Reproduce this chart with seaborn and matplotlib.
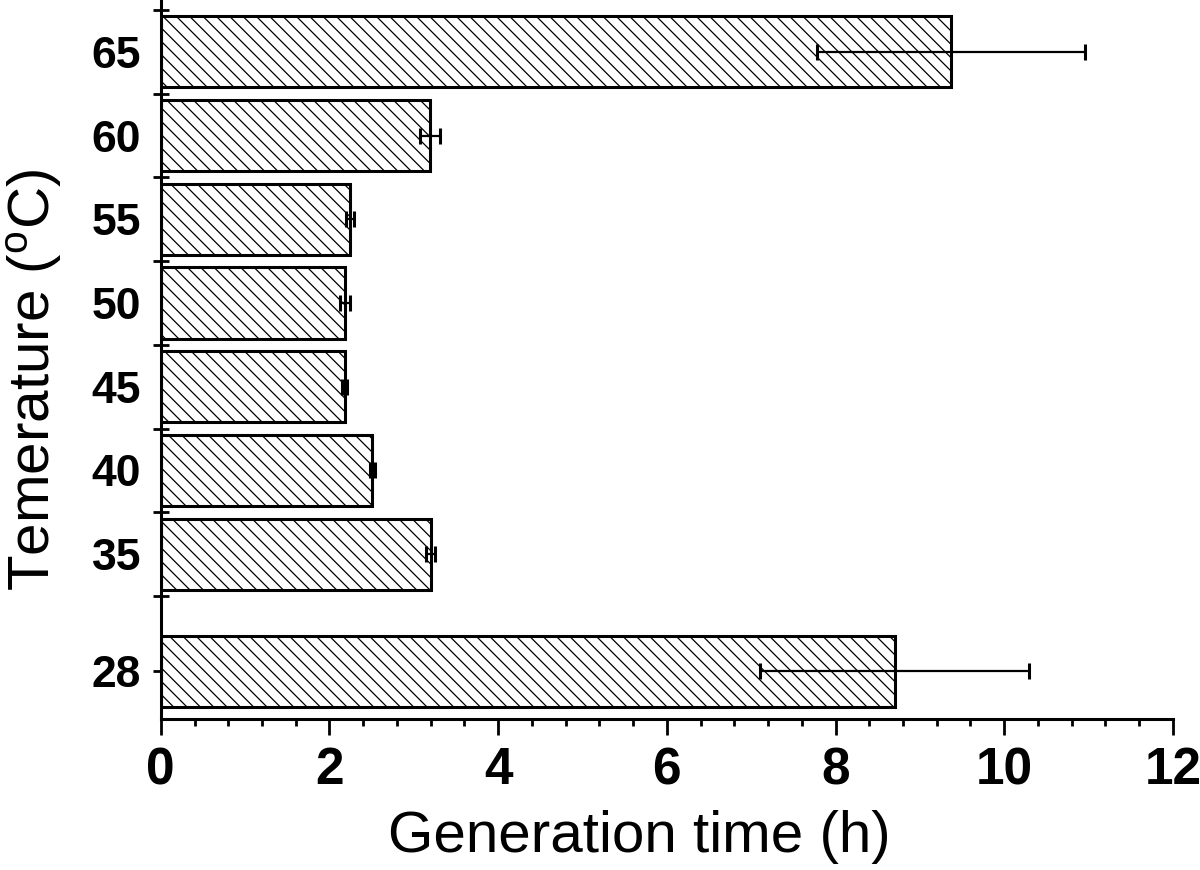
import matplotlib
matplotlib.use("Agg")
import matplotlib.pyplot as plt
import seaborn as sns
from matplotlib.ticker import FixedLocator, MultipleLocator

# data
temperatures = [28, 35, 40, 45, 50, 55, 60, 65]
generation_time = [8.70, 3.20, 2.51, 2.18, 2.18, 2.24, 3.19, 9.37]
time_error = [1.59, 0.05, 0.03, 0.03, 0.06, 0.05, 0.12, 1.59]
y_labels = ["28", "35", "40", "45", "50", "55", "60", "65"]
break_ticks = [32.5, 37.5, 42.5, 47.5, 52.5, 57.5, 62.5, 67.5]

# hatch spacing is tied to the dpi, so draw at dpi 80;
# S keeps every size in points at the same pixel size as at dpi 100
DPI = 80
S = 100 / DPI

sns.set_style("ticks")
plt.rcParams["font.family"] = ["Liberation Sans", "DejaVu Sans"]
plt.rcParams["mathtext.default"] = "regular"
plt.rcParams["hatch.linewidth"] = 0.9 * S
plt.rcParams["hatch.color"] = "black"
for key in ["text.color", "axes.labelcolor", "xtick.color", "ytick.color", "axes.edgecolor"]:
    plt.rcParams[key] = "black"

fig = plt.figure(figsize=(1200 / DPI, 870 / DPI), dpi=DPI)
ax = fig.add_axes([0.134, 0.1736, 0.8434, 0.8264])

sns.barplot(x=generation_time, y=temperatures, orient="y", native_scale=True,
            width=0.85, color="white", saturation=1, edgecolor="black",
            linewidth=2.2 * S, errorbar=None, ax=ax)
for p in ax.patches:
    p.set_hatch("\\\\")

ax.errorbar(generation_time, temperatures, xerr=time_error, fmt="none",
            ecolor="black", elinewidth=1.6 * S, capsize=6 * S, capthick=2.2 * S,
            zorder=5)

sns.despine(ax=ax)
ax.spines["left"].set_linewidth(2.2 * S)
ax.spines["bottom"].set_linewidth(2.2 * S)

ax.set_xlim(0, 12)
ax.xaxis.set_major_locator(MultipleLocator(2))
ax.xaxis.set_minor_locator(MultipleLocator(0.4))
ax.tick_params(axis="x", which="major", direction="out", length=11.5 * S,
               width=2 * S, labelsize=37 * S, pad=8 * S)
ax.tick_params(axis="x", which="minor", direction="out", length=5 * S, width=2 * S)

ax.set_ylim(25.15, 68.1)
ax.yaxis.set_major_locator(FixedLocator(temperatures))
ax.set_yticklabels(y_labels)
ax.yaxis.set_minor_locator(FixedLocator(break_ticks))
ax.tick_params(axis="y", which="major", direction="out", length=6 * S,
               width=2 * S, labelsize=32 * S, pad=8 * S)
ax.tick_params(axis="y", which="minor", direction="inout", length=11 * S, width=2 * S)
for tick in ax.yaxis.get_major_ticks()[1:]:
    tick.tick1line.set_visible(False)

plt.setp(ax.get_xticklabels() + ax.get_yticklabels(), fontweight="bold")

ax.set_xlabel("Generation time (h)", fontsize=42 * S)
ax.set_ylabel(r"Temerature ($^{o}$C)", fontsize=42 * S)
ax.xaxis.set_label_coords(0.473, -0.126)
ax.yaxis.set_label_coords(-0.096, 0.471)

fig.savefig("out.png", dpi=DPI)
